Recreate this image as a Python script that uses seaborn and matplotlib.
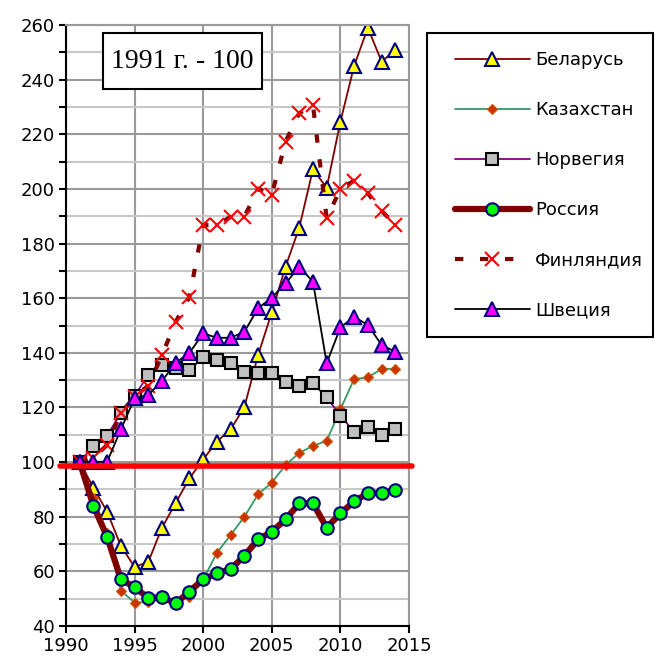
import numpy as np
import pandas as pd
import matplotlib
matplotlib.use('Agg')
import matplotlib.pyplot as plt
import matplotlib.ticker as mticker
from matplotlib.patches import Rectangle
from matplotlib.legend_handler import HandlerLine2D
import seaborn as sns

# ── DATA (1991 = 100) ──────────────────────────────────────────────────────
years = list(range(1991, 2015))

belarus = [100, 90.6, 81.8, 69.3, 61.6, 63.5, 76.0, 85.1, 94.1, 101.0, 107.5, 112.0,
           120.1, 139.2, 154.8, 171.5, 185.8, 207.2, 200.4, 224.6, 245.0, 259.0, 246.6, 250.8]
kazakhstan = [100, 87.0, 74.0, 52.9, 48.6, 48.8, 50.0, 49.2, 50.7, 57.0, 66.8, 73.3,
              80.0, 88.2, 92.5, 98.9, 103.4, 105.9, 107.8, 119.3, 130.4, 131.0, 134.1, 134.1]
norway = [100, 106.0, 109.7, 118.0, 124.3, 131.9, 135.5, 134.3, 133.7, 138.3, 137.4, 136.2,
          133.1, 132.5, 132.5, 129.4, 127.8, 128.8, 123.7, 117.0, 111.1, 112.7, 109.9, 112.0]
russia = [100, 84.0, 72.6, 57.1, 54.2, 50.3, 50.5, 48.3, 52.6, 57.1, 59.3, 60.8,
          65.7, 71.7, 74.5, 79.0, 84.9, 84.9, 76.0, 81.2, 85.6, 88.6, 88.6, 89.8]
finland = [100, 101.5, 106.3, 117.9, 124.0, 128.0, 139.2, 151.4, 160.5, 186.8, 186.8, 189.8,
           189.8, 200.1, 197.8, 217.3, 227.7, 230.7, 189.2, 200.0, 203.0, 198.4, 192.0, 186.8]
sweden = [100, 100.1, 100.1, 112.0, 123.3, 124.6, 129.7, 136.4, 140.0, 147.1, 145.5, 145.5,
          147.7, 156.3, 160.2, 165.4, 171.5, 166.0, 136.2, 149.3, 153.2, 150.2, 142.9, 140.4]

REF_LEVEL = 98.7
NOTE = '1991 г. - 100'

# ── STYLE ──────────────────────────────────────────────────────────────────
sns.set_style('white')
plt.rcParams.update({
    'font.family': ['DejaVu Sans'],
    'text.color': 'black',
    'axes.labelcolor': 'black',
    'xtick.color': 'black',
    'ytick.color': 'black',
    'xtick.labelsize': 13,
    'ytick.labelsize': 13,
})

NAVY = '#000080'
series = [
    ('Беларусь',  belarus,    dict(color='#800000', lw=1.3, marker='^', ms=10,
                                   mfc='#ffff00', mec=NAVY, mew=1.5)),
    ('Казахстан', kazakhstan, dict(color='#339966', lw=1.3, marker='D', ms=5,
                                   mfc='#cc3300', mec='#cc5500', mew=0.8)),
    ('Норвегия',  norway,     dict(color='#800080', lw=1.3, marker='s', ms=9,
                                   mfc='#c0c0c0', mec='black', mew=1.5)),
    ('Россия',    russia,     dict(color='#800000', lw=4.5, marker='o', ms=9,
                                   mfc='#00ff00', mec=NAVY, mew=1.5)),
    ('Финляндия', finland,    dict(color='#800000', lw=3.0, ls=(0, (2, 4)), marker='x',
                                   ms=10, mfc='red', mec='red', mew=1.5)),
    ('Швеция',    sweden,     dict(color='black', lw=1.3, marker='^', ms=10,
                                   mfc='#ff00ff', mec=NAVY, mew=1.5)),
]

fig = plt.figure(figsize=(6.55, 6.6), dpi=100)
ax = fig.add_axes([66/655, 1 - 626/660, 343/655, 601/660])

for name, vals, kw in series:
    sns.lineplot(x=years, y=vals, ax=ax, label=name, **kw)

if ax.get_legend() is not None:
    ax.get_legend().remove()

# reference line
ax.axhline(REF_LEVEL, xmin=-0.017, xmax=1.008, color='#ff0000', lw=4, zorder=10,
           clip_on=False)

# ── AXES ───────────────────────────────────────────────────────────────────
ax.set_xlim(1990, 2015)
ax.set_ylim(40, 260)
ax.xaxis.set_major_locator(mticker.MultipleLocator(5))
ax.yaxis.set_major_locator(mticker.MultipleLocator(20))
ax.yaxis.set_minor_locator(mticker.MultipleLocator(10))
ax.grid(which='major', color='#9a9a9a', lw=1.5)
ax.grid(which='minor', axis='y', color='#c8c8c8', lw=1.5)
ax.set_axisbelow(True)
ax.tick_params(which='both', direction='out', length=5, width=1.5, color='black',
               left=True, bottom=True, pad=3, labelcolor='black')
ax.set_xlabel('');  ax.set_ylabel('')
for s in ['left', 'bottom']:
    ax.spines[s].set_color('black');  ax.spines[s].set_linewidth(1.5)
for s in ['top', 'right']:
    ax.spines[s].set_color('#9a9a9a');  ax.spines[s].set_linewidth(1.5)

# note box "1991 = 100"
ax.add_patch(Rectangle((0.1079, 0.8935), 0.4635, 0.0932, transform=ax.transAxes,
                       fc='white', ec='black', lw=1.5, zorder=11))
ax.text(0.3397, 0.940, NOTE, transform=ax.transAxes, ha='center', va='center',
        fontsize=20, family='Liberation Serif', color='black', zorder=12)

# ── LEGEND ─────────────────────────────────────────────────────────────────
handles, labels = ax.get_legend_handles_labels()
leg = fig.legend(handles, labels, loc='upper left',
                 bbox_to_anchor=(427/655, 0, 226/655, 1 - 33/660), mode='expand',
                 borderaxespad=0, fontsize=13, numpoints=1, handlelength=4.7,
                 handletextpad=0.3, labelspacing=1.77, borderpad=1.0,
                 fancybox=False, framealpha=1, edgecolor='black',
                 handler_map={h: HandlerLine2D(xpad=0.55) for h in handles})
leg.get_frame().set_linewidth(1.5)
for t in leg.get_texts():
    t.set_color('black')

plt.savefig('out.png', dpi=100)
plt.close()
